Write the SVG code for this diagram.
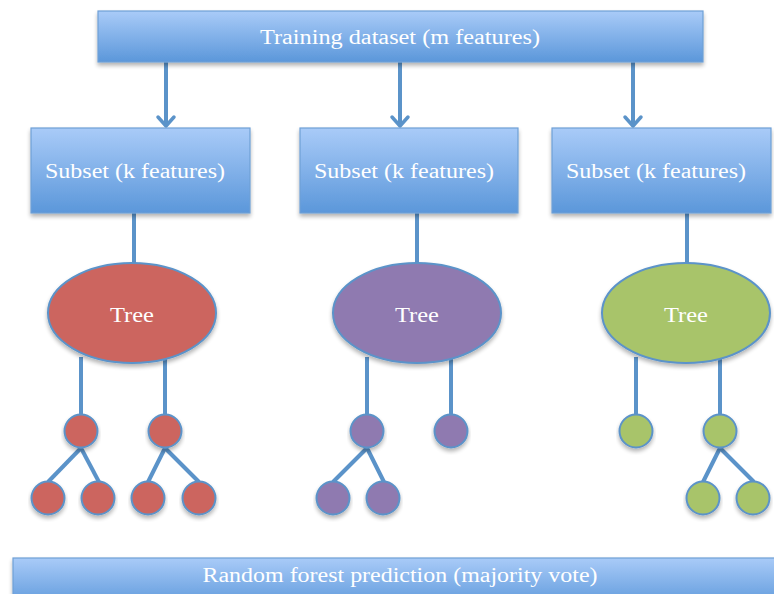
<svg xmlns="http://www.w3.org/2000/svg" width="774" height="594" viewBox="0 0 774 594">
  <defs>
    <linearGradient id="boxFill" x1="0" y1="0" x2="0" y2="1">
      <stop offset="0" stop-color="#a9cbf8"/>
      <stop offset="1" stop-color="#5b97da"/>
    </linearGradient>
    <filter id="shadow" x="-10%" y="-10%" width="120%" height="130%">
      <feGaussianBlur in="SourceAlpha" stdDeviation="2"/>
      <feOffset dx="0" dy="3" result="b"/>
      <feComponentTransfer><feFuncA type="linear" slope="0.3"/></feComponentTransfer>
      <feMerge><feMergeNode/><feMergeNode in="SourceGraphic"/></feMerge>
    </filter>
    <!-- open chevron arrowhead, drawn pointing along +x -->
    <marker id="chevron" viewBox="0 0 22 22" refX="19" refY="11" markerWidth="22" markerHeight="22" markerUnits="userSpaceOnUse" orient="auto">
      <path d="M10,3 L19,11 L10,19" fill="none" stroke="#5b93c9" stroke-width="3.5" stroke-linecap="round" stroke-linejoin="round"/>
    </marker>
  </defs>
  <style>
    .box { fill: url(#boxFill); stroke: #6fa0d6; stroke-width: 1.2; filter: url(#shadow); }
    .label { font-family: "Liberation Serif", "DejaVu Serif", serif; fill: #ffffff; font-size: 20px; text-anchor: middle; }
    .link { stroke: #5b93c9; stroke-width: 4; fill: none; }
    .node { stroke: #5b93c9; stroke-width: 2; filter: url(#shadow); }
    .red { fill: #cc655f; }
    .purple { fill: #8f7ab0; }
    .green { fill: #a8c46a; }
  </style>

  <!-- connectors -->
  <g id="connectors">
    <line class="link" x1="166" y1="62" x2="166" y2="126" marker-end="url(#chevron)"/>
    <line class="link" x1="400" y1="62" x2="400" y2="126" marker-end="url(#chevron)"/>
    <line class="link" x1="633" y1="62" x2="633" y2="126" marker-end="url(#chevron)"/>

    <line class="link" x1="134" y1="213" x2="134" y2="264"/>
    <line class="link" x1="417" y1="213" x2="417" y2="264"/>
    <line class="link" x1="687" y1="213" x2="687" y2="264"/>

    <!-- tree 1 branches -->
    <line class="link" x1="81" y1="357" x2="81" y2="415"/>
    <line class="link" x1="165" y1="357" x2="165" y2="415"/>
    <line class="link" x1="81" y1="448" x2="48" y2="482"/>
    <line class="link" x1="81" y1="448" x2="99" y2="482"/>
    <line class="link" x1="165" y1="448" x2="148" y2="482"/>
    <line class="link" x1="165" y1="448" x2="199" y2="482"/>

    <!-- tree 2 branches -->
    <line class="link" x1="367" y1="357" x2="367" y2="415"/>
    <line class="link" x1="451" y1="357" x2="451" y2="415"/>
    <line class="link" x1="367" y1="448" x2="333" y2="482"/>
    <line class="link" x1="367" y1="448" x2="384" y2="482"/>

    <!-- tree 3 branches -->
    <line class="link" x1="636" y1="357" x2="636" y2="415"/>
    <line class="link" x1="720" y1="357" x2="720" y2="415"/>
    <line class="link" x1="720" y1="448" x2="703" y2="482"/>
    <line class="link" x1="720" y1="448" x2="754" y2="482"/>
  </g>

  <g id="training-dataset">
    <rect class="box" x="98" y="11" width="605" height="51"/>
    <text class="label" x="400" y="44" textLength="280" lengthAdjust="spacingAndGlyphs">Training dataset (m features)</text>
  </g>

  <g id="subset-1">
    <rect class="box" x="31" y="128" width="219" height="85"/>
    <text class="label" x="135" y="178" textLength="180" lengthAdjust="spacingAndGlyphs">Subset (k features)</text>
  </g>
  <g id="subset-2">
    <rect class="box" x="300" y="128" width="218" height="85"/>
    <text class="label" x="404" y="178" textLength="180" lengthAdjust="spacingAndGlyphs">Subset (k features)</text>
  </g>
  <g id="subset-3">
    <rect class="box" x="552" y="128" width="219" height="85"/>
    <text class="label" x="656" y="178" textLength="180" lengthAdjust="spacingAndGlyphs">Subset (k features)</text>
  </g>

  <g id="tree-1">
    <ellipse class="node red" cx="132" cy="313" rx="84" ry="50"/>
    <text class="label" x="132" y="322" textLength="44" lengthAdjust="spacingAndGlyphs">Tree</text>
    <circle class="node red" cx="81" cy="431" r="16.5"/>
    <circle class="node red" cx="165" cy="431" r="16.5"/>
    <circle class="node red" cx="48" cy="498" r="16.5"/>
    <circle class="node red" cx="98" cy="498" r="16.5"/>
    <circle class="node red" cx="148" cy="498" r="16.5"/>
    <circle class="node red" cx="199" cy="498" r="16.5"/>
  </g>

  <g id="tree-2">
    <ellipse class="node purple" cx="417" cy="313" rx="84" ry="50"/>
    <text class="label" x="417" y="322" textLength="44" lengthAdjust="spacingAndGlyphs">Tree</text>
    <circle class="node purple" cx="367" cy="431" r="16.5"/>
    <circle class="node purple" cx="451" cy="431" r="16.5"/>
    <circle class="node purple" cx="333" cy="498" r="16.5"/>
    <circle class="node purple" cx="383" cy="498" r="16.5"/>
  </g>

  <g id="tree-3">
    <ellipse class="node green" cx="686" cy="313" rx="84" ry="50"/>
    <text class="label" x="686" y="322" textLength="44" lengthAdjust="spacingAndGlyphs">Tree</text>
    <circle class="node green" cx="636" cy="431" r="16.5"/>
    <circle class="node green" cx="720" cy="431" r="16.5"/>
    <circle class="node green" cx="703" cy="498" r="16.5"/>
    <circle class="node green" cx="753" cy="498" r="16.5"/>
  </g>

  <g id="prediction">
    <rect class="box" x="13" y="558" width="770" height="50"/>
    <text class="label" x="400" y="582" textLength="395" lengthAdjust="spacingAndGlyphs">Random forest prediction (majority vote)</text>
  </g>
</svg>
